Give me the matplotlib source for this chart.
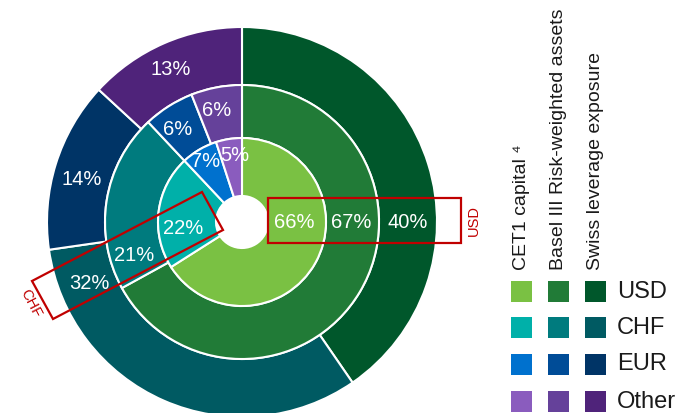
import matplotlib
matplotlib.use("Agg")
import matplotlib.pyplot as plt
from matplotlib.patches import Rectangle, Polygon
import numpy as np

plt.rcParams['font.family'] = ['Liberation Sans', 'DejaVu Sans']

# data
currencies = ['USD', 'CHF', 'EUR', 'Other']
cet1 = [66, 22, 7, 5]
rwa = [67, 21, 6, 6]
leverage = [40, 32, 14, 13]
headers = ['CET1 capital \u2074', 'Basel III Risk-weighted assets', 'Swiss leverage exposure']

cet1_colors = ['#7ac143', '#00b0a9', '#0071ce', '#8a5cbe']
rwa_colors = ['#217b37', '#007b7e', '#004c97', '#65419a']
lev_colors = ['#00572b', '#005a62', '#003466', '#4f237a']

red = '#c00000'

fig = plt.figure(figsize=(6.84, 4.13), dpi=100)
ax = fig.add_axes([0, 0, 1, 1])

cx, cy = 242, 191
rings = [
    # values, colors, outer radius, width, label angles (deg), label radii
    (leverage, lev_colors, 195, 58, [0, 202, 165, 115], [166, 165, 166, 168]),
    (rwa, rwa_colors, 137, 53, [0, 197, 125, 103], [109, 113, 113, 114]),
    (cet1, cet1_colors, 84, 58, [0, 186, 121, 96], [52, 59, 70, 67]),
]

for vals, cols, R, w, angs, rads in rings:
    ax.pie(vals, radius=R, colors=cols, startangle=90, counterclock=False,
           center=(cx, cy),
           wedgeprops=dict(width=w, edgecolor='white', linewidth=1.5))
    for v, a, r in zip(vals, angs, rads):
        t = np.deg2rad(a)
        ax.text(cx + r * np.cos(t), cy + r * np.sin(t), f'{v}%',
                ha='center', va='center', color='white', fontsize=14.5)

# highlight boxes
ax.add_patch(Rectangle((268, 170), 193, 45, fill=False, edgecolor=red, lw=1.6, zorder=5))
ax.text(474, 193, 'USD', rotation=90, ha='center', va='center', color=red, fontsize=10.5)
ax.add_patch(Polygon([(202, 221), (223, 183), (53, 94), (32, 132)], closed=True,
                     fill=False, edgecolor=red, lw=1.6, zorder=5))
ax.text(31, 110, 'CHF', rotation=-62.4, ha='center', va='center', color=red, fontsize=10.5,
        rotation_mode='anchor')

# legend
col_x = [511, 548, 585]
row_top = [281, 317, 354, 391]
for j, (hdr, cols) in enumerate(zip(headers, [cet1_colors, rwa_colors, lev_colors])):
    ax.text(col_x[j] + 10.5, 143, hdr, rotation=90, ha='center', va='bottom',
            fontsize=14, color='#1a1a1a')
    for i, c in enumerate(cols):
        ax.add_patch(Rectangle((col_x[j], 413 - row_top[i] - 21), 21, 21,
                               facecolor=c, edgecolor='none'))
for i, cur in enumerate(currencies):
    ax.text(617, 413 - row_top[i] - 10.5, cur, ha='left', va='center',
            fontsize=17, color='#1a1a1a')

ax.set_xlim(0, 684)
ax.set_ylim(0, 413)
ax.set_aspect('equal')
ax.axis('off')

fig.savefig('out.png', dpi=100)
